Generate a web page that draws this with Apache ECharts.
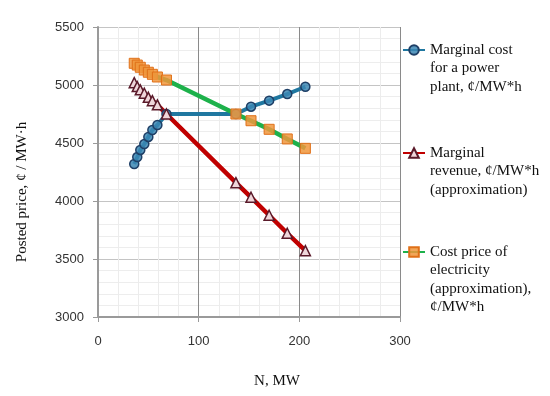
<!DOCTYPE html>
<html>
<head>
<meta charset="utf-8">
<script src="https://cdn.jsdelivr.net/npm/echarts@6/dist/echarts.min.js"></script>
<style>html,body{margin:0;padding:0;background:#fff}#c{width:550px;height:396px}</style>
</head>
<body>
<div id="c"></div>
<script>
// Data
const nMW = [36, 39, 42, 46, 50, 54, 59, 68, 137, 152, 170, 188, 206];
const marginalCost = [4319, 4379, 4440, 4491, 4552, 4612, 4655, 4750, 4750, 4813, 4865, 4922, 4985];
const marginalRevenue = [5020, 4986, 4958, 4929, 4894, 4865, 4829, 4750, 4158, 4032, 3877, 3722, 3572];
const costPrice = [5187, 5172, 5153, 5129, 5110, 5092, 5069, 5043, 4750, 4692, 4618, 4535, 4454];
const seriesNames = [
  'Marginal cost\nfor a power\nplant, ¢/MW*h',
  'Marginal\nrevenue, ¢/MW*h\n(approximation)',
  'Cost price of\nelectricity\n(approximation),\n¢/MW*h'
];
const xTicks = {min: 0, max: 300, interval: 100};
const yTicks = {min: 3000, max: 5500, interval: 500};

const pairs = vals => nMW.map((x, i) => [x, vals[i]]);
const serif = 'Liberation Serif';
const LH = 18.5;

// first text line aligned with the legend icon: pad with leading blank lines
function legendFor(name, firstLineY) {
  const n = name.split('\n').length;
  const total = 2 * n - 1;
  return {
    data: [name], left: 402, top: firstLineY - total * LH / 2, padding: 0,
    itemWidth: 22, itemHeight: 12, itemGap: 0,
    formatter: nm => '\n'.repeat(n - 1) + nm,
    textStyle: {fontFamily: serif, fontSize: 15, color: '#111', lineHeight: LH}
  };
}

const chart = echarts.init(document.getElementById('c'), null, {renderer: 'canvas'});
chart.setOption({
  animation: false,
  backgroundColor: '#fff',
  grid: {left: 98, right: 150, top: 27, bottom: 79},
  legend: [
    legendFor(seriesNames[0], 50),
    legendFor(seriesNames[1], 153),
    legendFor(seriesNames[2], 252)
  ],
  xAxis: {
    type: 'value', min: xTicks.min, max: xTicks.max, interval: xTicks.interval,
    name: 'N, MW', nameLocation: 'middle', nameGap: 57,
    nameTextStyle: {fontFamily: serif, fontSize: 15, color: '#111', padding: [0, 0, 0, 56]},
    axisLine: {lineStyle: {color: '#9a9a9a', width: 2}},
    axisTick: {show: true, length: 5, lineStyle: {color: '#9a9a9a'}},
    axisLabel: {fontFamily: 'Liberation Sans', fontSize: 13, color: '#333', margin: 18},
    splitLine: {show: true, lineStyle: {color: '#8a8a8a', width: 1}},
    minorTick: {show: false, splitNumber: 5},
    minorSplitLine: {show: true, lineStyle: {color: '#ececec', width: 1}}
  },
  yAxis: {
    type: 'value', min: yTicks.min, max: yTicks.max, interval: yTicks.interval,
    name: 'Posted price, ¢ / MW·h', nameLocation: 'middle', nameGap: 68,
    nameTextStyle: {fontFamily: serif, fontSize: 15, color: '#111', padding: [0, 40, 0, 0]},
    axisLine: {show: true, lineStyle: {color: '#9a9a9a', width: 2}},
    axisTick: {show: true, length: 5, lineStyle: {color: '#9a9a9a'}},
    axisLabel: {fontFamily: 'Liberation Sans', fontSize: 13, color: '#333', margin: 14,
      formatter: v => String(v)},
    splitLine: {show: true, lineStyle: {color: '#c4c4c4', width: 1.2}},
    minorTick: {show: false, splitNumber: 5},
    minorSplitLine: {show: true, lineStyle: {color: '#ededed', width: 1}}
  },
  series: [
    {
      name: seriesNames[0], type: 'line', data: pairs(marginalCost),
      symbol: 'circle', symbolSize: 9,
      lineStyle: {color: '#1f77a0', width: 4},
      itemStyle: {color: 'rgba(60,135,180,0.85)', borderColor: '#1f3f66', borderWidth: 1.5}
    },
    {
      name: seriesNames[1], type: 'line', data: pairs(marginalRevenue),
      symbol: 'triangle', symbolSize: 10,
      lineStyle: {color: '#c00000', width: 4.5},
      itemStyle: {color: '#efd6da', borderColor: '#5a1a2a', borderWidth: 1.5}
    },
    {
      name: seriesNames[2], type: 'line', data: pairs(costPrice),
      symbol: 'rect', symbolSize: 10,
      lineStyle: {color: '#1db14b', width: 4.5},
      itemStyle: {color: 'rgba(240,150,60,0.85)', borderColor: '#e07018', borderWidth: 1}
    }
  ]
});
</script>
</body>
</html>
